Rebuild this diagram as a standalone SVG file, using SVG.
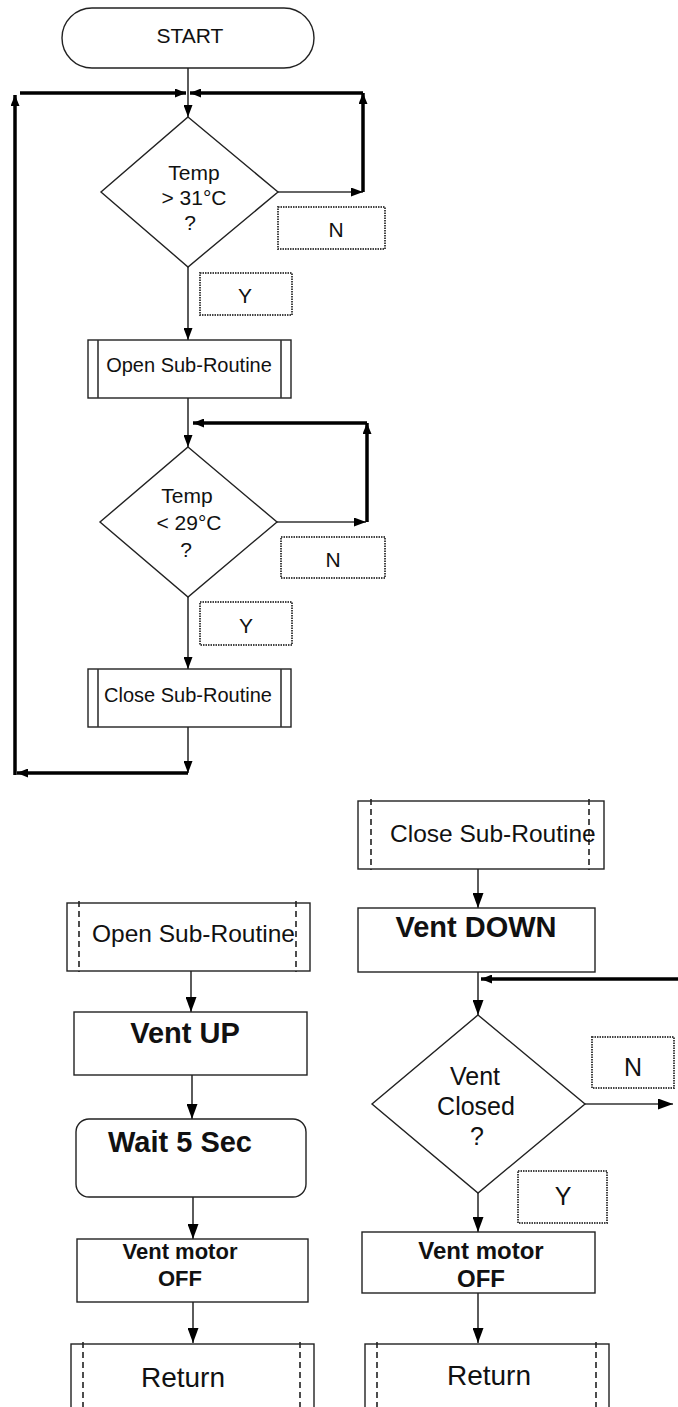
<svg xmlns="http://www.w3.org/2000/svg" width="678" height="1407" viewBox="0 0 678 1407">
<defs>
<marker id="ah" markerUnits="userSpaceOnUse" markerWidth="12" markerHeight="9" refX="12" refY="4.5" orient="auto"><path d="M0,0 L12,4.5 L0,9 z" fill="#000"/></marker>
<marker id="ahk" markerUnits="userSpaceOnUse" markerWidth="11" markerHeight="9" refX="11" refY="4.5" orient="auto"><path d="M0,0 L11,4.5 L0,9 z" fill="#000"/></marker>
<marker id="ahb" markerUnits="userSpaceOnUse" markerWidth="15" markerHeight="11" refX="15" refY="5.5" orient="auto"><path d="M0,0 L15,5.5 L0,11 z" fill="#000"/></marker>
<style>
.shape{fill:#fff;stroke:#222;stroke-width:1.4}
.thin{fill:none;stroke:#333;stroke-width:1.6}
.thick{fill:none;stroke:#000;stroke-width:3.5}
.lbl{fill:#fff;stroke:#444;stroke-width:2;stroke-dasharray:1.5 1}
.dash{stroke:#222;stroke-width:1.6;stroke-dasharray:6 4}
text{font-family:"Liberation Sans",Arial,sans-serif;fill:#111;text-anchor:middle}
.b{font-weight:bold}
</style>
</defs>
<rect width="678" height="1407" fill="#fff"/>

<g id="connectors">
<line class="thin" x1="188" y1="68" x2="188" y2="117" marker-end="url(#ah)"/>
<line class="thick" x1="20" y1="93" x2="186" y2="93" marker-end="url(#ahk)"/>
<line class="thick" x1="363" y1="93" x2="190" y2="93" marker-end="url(#ahk)"/>
<line class="thin" x1="278" y1="192" x2="363" y2="192" marker-end="url(#ah)"/>
<line class="thick" x1="363" y1="192" x2="363" y2="93" marker-end="url(#ahk)"/>
<line class="thin" x1="188" y1="267" x2="188" y2="340" marker-end="url(#ah)"/>
<line class="thin" x1="188" y1="398" x2="188" y2="447" marker-end="url(#ah)"/>
<line class="thin" x1="277" y1="522" x2="366" y2="522" marker-end="url(#ah)"/>
<line class="thick" x1="367" y1="522" x2="367" y2="423" marker-end="url(#ahk)"/>
<line class="thick" x1="367" y1="423" x2="193" y2="423" marker-end="url(#ahk)"/>
<line class="thin" x1="188" y1="597" x2="188" y2="669" marker-end="url(#ah)"/>
<line class="thin" x1="188" y1="727" x2="188" y2="773" marker-end="url(#ah)"/>
<line class="thick" x1="188" y1="773" x2="17" y2="773" marker-end="url(#ahk)"/>
<line class="thick" x1="15" y1="775" x2="15" y2="95" marker-end="url(#ahk)"/>

<line class="thin" x1="478" y1="869" x2="478" y2="908" marker-end="url(#ahb)"/>
<line class="thin" x1="478" y1="972" x2="478" y2="1015" marker-end="url(#ahb)"/>
<line class="thick" x1="678" y1="979" x2="481" y2="979" marker-end="url(#ahk)"/>
<line class="thin" x1="585" y1="1104" x2="673" y2="1104" marker-end="url(#ahb)"/>
<line class="thin" x1="478" y1="1193" x2="478" y2="1232" marker-end="url(#ahb)"/>
<line class="thin" x1="478" y1="1293" x2="478" y2="1343" marker-end="url(#ahb)"/>

<line class="thin" x1="191" y1="971" x2="191" y2="1012" marker-end="url(#ahb)"/>
<line class="thin" x1="192" y1="1075" x2="192" y2="1119" marker-end="url(#ahb)"/>
<line class="thin" x1="193" y1="1197" x2="193" y2="1239" marker-end="url(#ahb)"/>
<line class="thin" x1="193" y1="1302" x2="193" y2="1343" marker-end="url(#ahb)"/>
</g>

<g id="start">
<rect class="shape" x="62" y="8" width="252" height="60" rx="30"/>
<text x="190" y="43" font-size="21">START</text>
</g>

<g id="dec1">
<polygon class="shape" points="188,117 278,192 188,267 101,192"/>
<text x="194" y="180" font-size="21">Temp</text>
<text x="194" y="205" font-size="21">&gt; 31°C</text>
<text x="190" y="230" font-size="21">?</text>
</g>
<g id="n1"><rect class="lbl" x="278" y="207" width="107" height="42"/><text x="336" y="237" font-size="21">N</text></g>
<g id="y1"><rect class="lbl" x="200" y="273" width="92" height="42"/><text x="245" y="303" font-size="21">Y</text></g>

<g id="open1">
<rect class="shape" x="88" y="340" width="203" height="58"/>
<line class="thin" x1="98" y1="340" x2="98" y2="398" stroke-width="1.2"/>
<line class="thin" x1="281" y1="340" x2="281" y2="398" stroke-width="1.2"/>
<text x="189" y="372" font-size="20">Open Sub-Routine</text>
</g>

<g id="dec2">
<polygon class="shape" points="188,447 277,522 188,597 100,522"/>
<text x="187" y="503" font-size="21">Temp</text>
<text x="189" y="530" font-size="21">&lt; 29°C</text>
<text x="186" y="557" font-size="21">?</text>
</g>
<g id="n2"><rect class="lbl" x="281" y="537" width="104" height="41"/><text x="333" y="567" font-size="21">N</text></g>
<g id="y2"><rect class="lbl" x="200" y="602" width="92" height="43"/><text x="246" y="633" font-size="21">Y</text></g>

<g id="close1">
<rect class="shape" x="88" y="669" width="203" height="58"/>
<line class="thin" x1="98" y1="669" x2="98" y2="727" stroke-width="1.2"/>
<line class="thin" x1="281" y1="669" x2="281" y2="727" stroke-width="1.2"/>
<text x="188" y="702" font-size="20">Close Sub-Routine</text>
</g>

<g id="closeSub">
<rect class="shape" x="358" y="801" width="246" height="68"/>
<line class="dash" x1="371" y1="799" x2="371" y2="870"/>
<line class="dash" x1="589" y1="799" x2="589" y2="870"/>
<text x="390" y="842" font-size="24.5" style="text-anchor:start">Close Sub-Routine</text>
</g>

<g id="ventDown">
<rect class="shape" x="358" y="908" width="237" height="64"/>
<text class="b" x="476" y="937" font-size="29">Vent DOWN</text>
</g>

<g id="dec3">
<polygon class="shape" points="478,1015 585,1104 478,1193 372,1104"/>
<text x="475" y="1085" font-size="25">Vent</text>
<text x="476" y="1115" font-size="25">Closed</text>
<text x="477" y="1145" font-size="25">?</text>
</g>
<g id="n3"><rect class="lbl" x="592" y="1037" width="82" height="51"/><text x="633" y="1076" font-size="25">N</text></g>
<g id="y3"><rect class="lbl" x="518" y="1171" width="89" height="52"/><text x="563" y="1205" font-size="25">Y</text></g>

<g id="motorOff2">
<rect class="shape" x="362" y="1232" width="233" height="61"/>
<text class="b" x="481" y="1259" font-size="24">Vent motor</text>
<text class="b" x="481" y="1287" font-size="24">OFF</text>
</g>

<g id="return2">
<rect class="shape" x="365" y="1344" width="244" height="80"/>
<line class="dash" x1="377" y1="1342" x2="377" y2="1410"/>
<line class="dash" x1="596" y1="1342" x2="596" y2="1410"/>
<text x="489" y="1385" font-size="28">Return</text>
</g>

<g id="openSub">
<rect class="shape" x="67" y="903" width="243" height="68"/>
<line class="dash" x1="79" y1="901" x2="79" y2="972"/>
<line class="dash" x1="296" y1="901" x2="296" y2="972"/>
<text x="92" y="942" font-size="24.5" style="text-anchor:start">Open Sub-Routine</text>
</g>

<g id="ventUp">
<rect class="shape" x="74" y="1012" width="233" height="63"/>
<text class="b" x="185" y="1043" font-size="29">Vent UP</text>
</g>

<g id="wait">
<rect class="shape" x="76" y="1119" width="230" height="78" rx="13"/>
<text class="b" x="180" y="1152" font-size="29">Wait 5 Sec</text>
</g>

<g id="motorOff1">
<rect class="shape" x="77" y="1239" width="231" height="63"/>
<text class="b" x="180" y="1259" font-size="22">Vent motor</text>
<text class="b" x="180" y="1286" font-size="22">OFF</text>
</g>

<g id="return1">
<rect class="shape" x="71" y="1344" width="243" height="80"/>
<line class="dash" x1="83" y1="1342" x2="83" y2="1410"/>
<line class="dash" x1="300" y1="1342" x2="300" y2="1410"/>
<text x="183" y="1387" font-size="28">Return</text>
</g>
</svg>
